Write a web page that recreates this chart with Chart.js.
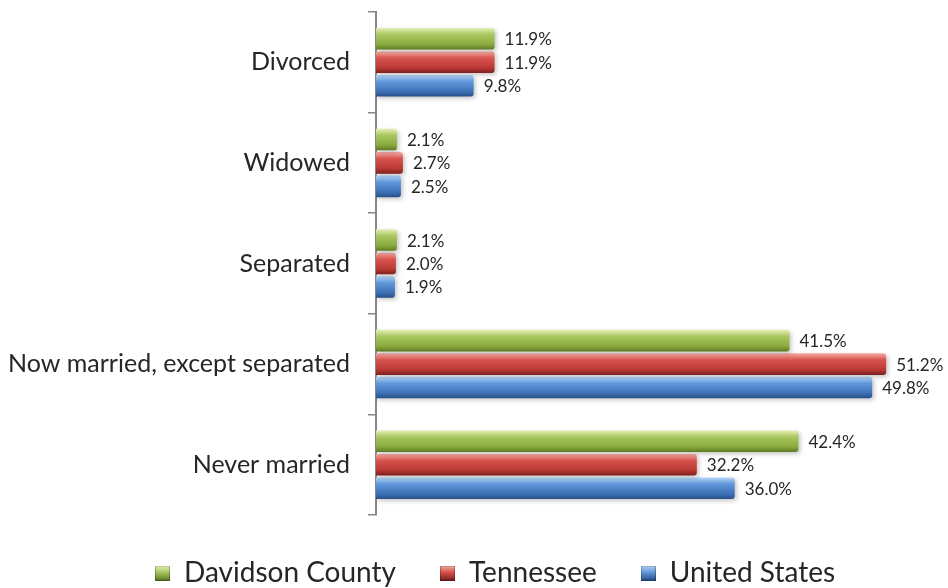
<!DOCTYPE html>
<html>
<head>
<meta charset="utf-8">
<script src="https://cdn.jsdelivr.net/npm/chart.js@4/dist/chart.umd.min.js"></script>
<style>
    html, body { margin: 0; padding: 0; background: #fff; }
    #wrap { width: 948px; height: 588px; }
</style>
</head>
<body>
<div id="wrap"><canvas id="maritalChart"></canvas></div>
<script>
const categories = ['Divorced', 'Widowed', 'Separated', 'Now married, except separated', 'Never married'];
const davidsonCounty = [11.9, 2.1, 2.1, 41.5, 42.4];
const tennessee = [11.9, 2.7, 2.0, 51.2, 32.2];
const unitedStates = [9.8, 2.5, 1.9, 49.8, 36.0];

// light top -> base -> dark bottom, gives the bars a rounded look
const shades = {
    green: ['#e6efb8', '#a9c860', '#8aab3f', '#5e7a22'],
    red: ['#f6aca6', '#d8544e', '#bb3a35', '#7c1f1c'],
    blue: ['#b6d6f6', '#6198dc', '#3f72b8', '#284f86']
};

function legendSwatch(stops) {
    const c = document.createElement('canvas');
    c.width = 15;
    c.height = 15;
    const g = c.getContext('2d');
    const grad = g.createLinearGradient(0, 0, 0, 15);
    grad.addColorStop(0, stops[0]);
    grad.addColorStop(0.45, stops[1]);
    grad.addColorStop(1, stops[3]);
    g.fillStyle = grad;
    g.fillRect(0, 0, 15, 15);
    g.strokeStyle = 'rgba(0,0,0,0.25)';
    g.strokeRect(0.5, 0.5, 14, 14);
    return c;
}

const barShading = {
    id: 'barShading',
    afterLayout(chart) {
        // legend row starts right of the page centre line
        const legend = chart.legend;
        const w = legend.right - legend.left;
        legend.left = 155 - legend.options.labels.padding;
        legend.right = legend.left + w;
    },
    beforeDatasetsDraw(chart) {
        const ctx = chart.ctx;
        chart.data.datasets.forEach((ds, i) => {
            const meta = chart.getDatasetMeta(i);
            meta.data.forEach((bar) => {
                const top = bar.y - bar.height / 2;
                const grad = ctx.createLinearGradient(0, top, 0, top + bar.height);
                grad.addColorStop(0, ds.shade[0]);
                grad.addColorStop(0.3, ds.shade[1]);
                grad.addColorStop(0.75, ds.shade[2]);
                grad.addColorStop(1, ds.shade[3]);
                bar.options = Object.assign({}, bar.options, { backgroundColor: grad });
            });
        });
        ctx.save();
        ctx.shadowColor = 'rgba(0,0,0,0.22)';
        ctx.shadowBlur = 4;
        ctx.shadowOffsetX = 2;
        ctx.shadowOffsetY = 2;
    },
    afterDatasetsDraw(chart) {
        const ctx = chart.ctx;
        ctx.restore();
        ctx.save();
        ctx.font = '17px Lato';
        ctx.fillStyle = '#262626';
        ctx.textAlign = 'left';
        ctx.textBaseline = 'middle';
        chart.data.datasets.forEach((ds, i) => {
            chart.getDatasetMeta(i).data.forEach((bar, j) => {
                ctx.fillText(ds.data[j].toFixed(1) + '%', bar.x + 10, bar.y + 1);
            });
        });
        ctx.restore();
    }
};

new Chart(document.getElementById('maritalChart'), {
    type: 'bar',
    data: {
        labels: categories,
        datasets: [
            { label: 'Davidson County', data: davidsonCounty, shade: shades.green, backgroundColor: () => shades.green[1], pointStyle: legendSwatch(shades.green) },
            { label: 'Tennessee', data: tennessee, shade: shades.red, backgroundColor: () => shades.red[1], pointStyle: legendSwatch(shades.red) },
            { label: 'United States', data: unitedStates, shade: shades.blue, backgroundColor: () => shades.blue[1], pointStyle: legendSwatch(shades.blue) }
        ]
    },
    options: {
        indexAxis: 'y',
        responsive: true,
        maintainAspectRatio: false,
        animation: false,
        categoryPercentage: 0.7,
        barPercentage: 0.92,
        borderRadius: 3,
        layout: {
            padding: { left: 0, right: 24, top: 12, bottom: -9 }
        },
        scales: {
            x: {
                display: false,
                min: 0,
                max: 55
            },
            y: {
                afterFit: (scale) => {
                    scale.width = 376;
                    scale.paddingTop = 0;
                    scale.paddingBottom = 0;
                },
                grid: {
                    display: true,
                    drawOnChartArea: false,
                    drawTicks: true,
                    tickLength: 8,
                    offset: true,
                    color: '#868686',
                    lineWidth: 1.5
                },
                border: { display: true, color: '#868686', width: 2 },
                ticks: {
                    color: '#262626',
                    padding: 18,
                    font: { family: 'Lato', size: 25 }
                }
            }
        },
        plugins: {
            legend: {
                position: 'bottom',
                align: 'start',
                labels: {
                    usePointStyle: true,
                    boxWidth: 15,
                    boxHeight: 15,
                    padding: 44,
                    color: '#262626',
                    font: { family: 'Lato', size: 28 }
                }
            },
            tooltip: { enabled: false }
        }
    },
    plugins: [barShading]
});
</script>
</body>
</html>
